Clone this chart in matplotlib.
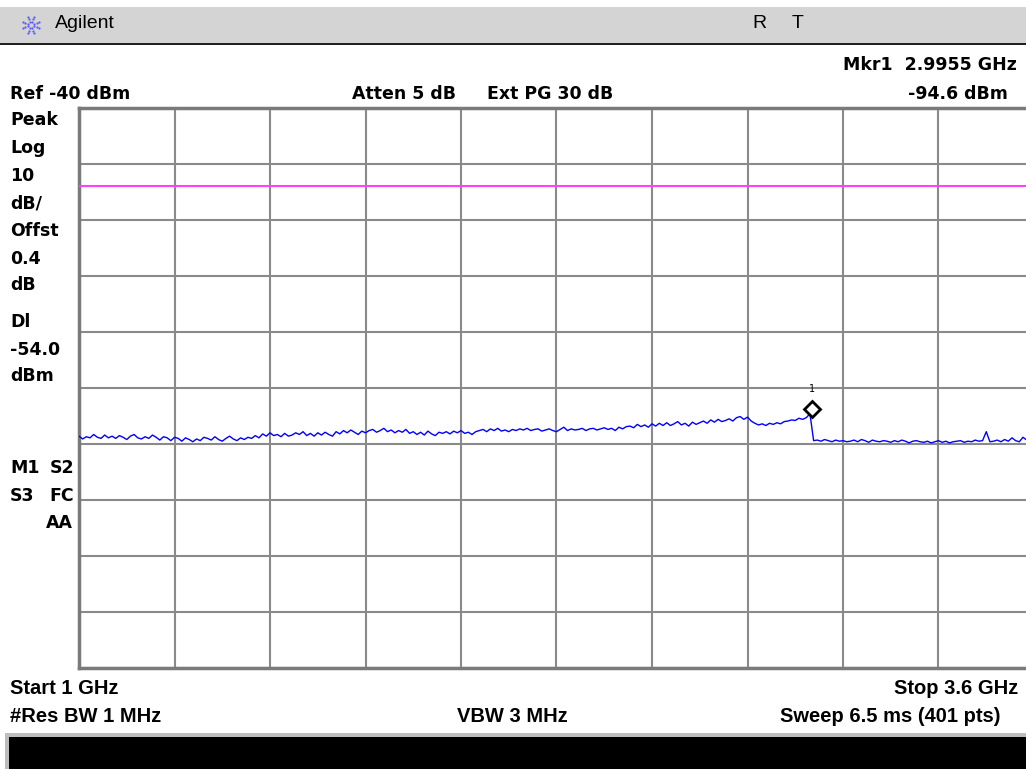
import numpy as np
import matplotlib.pyplot as plt
from matplotlib.patches import Rectangle
from matplotlib import transforms

# sweep settings
start_ghz = 1.0
stop_ghz = 3.6
ref_dbm = -40.0
db_per_div = 10.0
display_line_dbm = -54.0
mkr_ghz = 2.9955
mkr_dbm = -94.6

# trace readings, one every 10 MHz from 1.00 to 3.60 GHz (dBm)
trace_dbm = [
    -98.6, -99.1, -98.7, -98.9, -98.3, -98.8, -99.0, -98.4, -98.9, -98.6,
    -99.0, -98.5, -98.8, -99.2, -98.6, -98.3, -98.9, -99.1, -98.7, -99.0,
    -98.4, -98.8, -99.3, -98.7, -98.9, -99.4, -98.8, -99.0, -99.5, -98.9,
    -99.2, -99.6, -99.1, -99.4, -98.8, -99.0, -99.3, -98.7, -99.2, -99.5,
    -99.0, -98.6, -99.1, -99.4, -98.9, -99.2, -98.8, -99.0, -98.5, -98.9,
    -98.2, -98.6, -98.0, -98.5, -98.3, -98.7, -98.1, -98.6, -98.4, -98.0,
    -98.3, -97.8, -98.5, -98.1, -98.6, -98.0, -98.4, -97.9, -98.3, -98.6,
    -97.8, -98.2, -97.6, -98.0, -97.5, -97.9, -98.3, -97.7, -98.0, -97.6,
    -97.4, -97.9, -97.6, -97.2, -97.8, -97.5, -98.0, -97.6, -97.9, -97.4,
    -98.1, -97.8, -98.3, -97.9, -98.4, -97.7, -98.2, -98.5, -97.9, -98.1,
    -97.8, -98.2, -97.7, -98.0, -97.6, -98.1, -97.9, -98.3, -97.8, -97.6,
    -97.4, -97.8, -97.3, -97.6, -97.2, -97.7, -97.5, -97.8, -97.4, -97.6,
    -97.3, -97.5, -97.2, -97.6, -97.4, -97.3, -97.7, -97.5, -97.3, -97.6,
    -97.8, -97.4, -97.0, -97.6, -97.3, -97.5, -97.4, -97.2, -97.6, -97.3,
    -97.2, -97.5, -97.3, -97.1, -97.4, -97.2, -97.6, -97.0, -97.3, -96.9,
    -96.8, -97.1, -96.5, -96.9, -96.6, -97.0, -96.4, -96.8, -96.3, -96.7,
    -96.2, -96.7, -96.4, -96.0, -96.6, -96.3, -96.8, -96.1, -96.5, -96.2,
    -95.9, -96.3, -95.7, -96.1, -95.6, -96.0, -95.8, -95.5, -95.9, -95.3,
    -95.1, -95.6, -95.2, -95.9, -96.3, -96.6, -96.4, -96.7, -96.3, -96.5,
    -96.2, -96.4, -96.0, -95.9, -95.7, -95.8, -95.4, -95.6, -95.3, -94.6,
    -99.4, -99.3, -99.5, -99.2, -99.4, -99.6, -99.3, -99.5, -99.4, -99.6,
    -99.5, -99.3, -99.6, -99.2, -99.4, -99.7, -99.3, -99.5, -99.6, -99.4,
    -99.5, -99.7, -99.4, -99.6, -99.3, -99.5, -99.8, -99.5, -99.4, -99.6,
    -99.7, -99.5, -99.8, -99.6, -99.4, -99.7, -99.5, -99.8, -99.6, -99.5,
    -99.4, -99.7, -99.5, -99.6, -99.3, -99.5, -99.4, -97.8, -99.6, -99.5,
    -99.3, -99.6, -99.2, -99.5, -98.9, -99.4, -99.6, -98.8, -99.3, -99.5,
    -99.2,
]
trace_ghz = np.linspace(start_ghz, stop_ghz, len(trace_dbm))

left_labels = [("Peak", 10, 120), ("Log", 10, 148), ("10", 10, 176), ("dB/", 10, 204),
               ("Offst", 10, 231), ("0.4", 10, 259), ("dB", 10, 285), ("Dl", 10, 322),
               ("-54.0", 10, 350), ("dBm", 10, 376), ("M1", 10, 468), ("S2", 50, 468),
               ("S3", 10, 496), ("FC", 49, 496), ("AA", 46, 523)]

W, H = 1026, 769
plt.rcParams['font.family'] = ['DejaVu Sans']

fig = plt.figure(figsize=(W / 100, H / 100), dpi=100)
fig.patch.set_facecolor('white')


def fx(x):
    return x / W


def fy(y):
    return 1 - y / H


# header bar
fig.patches.append(Rectangle((0, fy(43)), 1, fy(7) - fy(43), transform=fig.transFigure,
                             facecolor='#d4d4d4', edgecolor='none'))
fig.patches.append(Rectangle((0, fy(45)), 1, fy(43) - fy(45), transform=fig.transFigure,
                             facecolor='#202020', edgecolor='none'))
# bottom status box
fig.patches.append(Rectangle((fx(5), 0), 1, fy(733), transform=fig.transFigure,
                             facecolor='#bdbdbd', edgecolor='none'))
fig.patches.append(Rectangle((fx(9), 0), 1, fy(737), transform=fig.transFigure,
                             facecolor='black', edgecolor='none'))

# logo: little dotted star
cx, cy = 31, 25
for k in range(8):
    a = k * np.pi / 4 + np.pi / 8
    r = np.array([3.0, 6.0, 9.0])
    fig.add_artist(plt.Line2D(fx(cx + r * np.cos(a)), fy(cy + r * np.sin(a)),
                              transform=fig.transFigure, ls='none', marker='o',
                              ms=1.6, mfc='#5a5aff', mec='none'))

bold = dict(fontsize=12.5, fontweight='bold', color='black', va='center')
plain = dict(fontsize=14, color='black', va='center', family='Liberation Sans')
fig.text(fx(55), fy(24), "Agilent", **plain)
fig.text(fx(752), fy(24), "R", **plain)
fig.text(fx(792), fy(24), "T", **plain)

fig.text(fx(1017), fy(65), "Mkr1  2.9955 GHz", ha='right', **bold)
fig.text(fx(10), fy(94), "Ref -40 dBm", **bold)
fig.text(fx(352), fy(94), "Atten 5 dB", **bold)
fig.text(fx(487), fy(94), "Ext PG 30 dB", **bold)
fig.text(fx(1008), fy(94), "-94.6 dBm", ha='right', **bold)
for s, x, y in left_labels:
    fig.text(fx(x), fy(y), s, **bold)

narrow = dict(fontsize=14.5, fontweight='bold', color='black', va='center',
              family='Liberation Sans')
fig.text(fx(10), fy(689), "Start 1 GHz", **narrow)
fig.text(fx(1018), fy(689), "Stop 3.6 GHz", ha='right', **narrow)
fig.text(fx(10), fy(717), "#Res BW 1 MHz", **narrow)
fig.text(fx(457), fy(717), "VBW 3 MHz", **narrow)
fig.text(fx(1000), fy(717), "Sweep 6.5 ms (401 pts)", ha='right', **narrow)

# graticule
x0, x1, y0, y1 = 79, 1034, 108, 668
ax = fig.add_axes([fx(x0), fy(y1), fx(x1) - fx(x0), fy(y0) - fy(y1)])
ax.set_xlim(start_ghz, stop_ghz)
ax.set_ylim(ref_dbm - 10 * db_per_div, ref_dbm)
ax.set_xticks(np.linspace(start_ghz, stop_ghz, 11))
ax.set_yticks(np.arange(ref_dbm - 10 * db_per_div, ref_dbm + 1, db_per_div))
ax.grid(True, color='#8a8a8a', linewidth=1.5)
ax.tick_params(length=0, labelbottom=False, labelleft=False)
for sp in ax.spines.values():
    sp.set_color('#7a7a7a')
    sp.set_linewidth(2.5)

ax.axhline(display_line_dbm, color='#ff40ff', linewidth=1.5, zorder=3)
ax.plot(trace_ghz, trace_dbm, color='#0000ff', linewidth=1.0, zorder=4)

# marker diamond sits a few pixels above the trace point
off = transforms.offset_copy(ax.transData, fig=fig, x=0, y=5, units='dots')
ax.plot([mkr_ghz], [mkr_dbm], marker='D', ms=8.5, mfc='white', mec='black',
        mew=2, transform=off, zorder=5, clip_on=False)
off2 = transforms.offset_copy(ax.transData, fig=fig, x=0, y=25, units='dots')
ax.text(mkr_ghz, mkr_dbm, "1", transform=off2, ha='center', va='center',
        fontsize=7, family='DejaVu Sans Mono', zorder=5)

fig.savefig("out.png", dpi=100, facecolor='white')
